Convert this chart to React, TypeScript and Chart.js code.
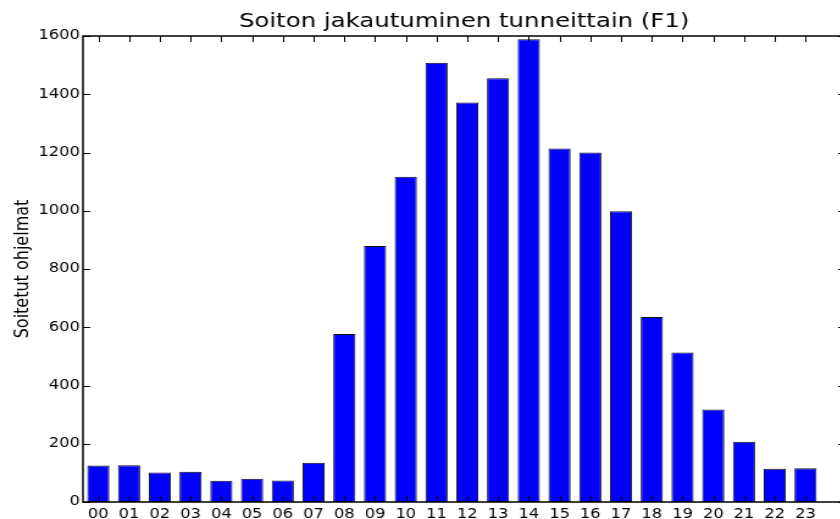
import React, { useEffect, useRef } from "react";
import { Chart, registerables } from "chart.js";

Chart.register(...registerables);

const hours = ["00","01","02","03","04","05","06","07","08","09","10","11","12","13","14","15","16","17","18","19","20","21","22","23"];
const plays = [125,126,101,104,73,80,74,135,577,879,1117,1508,1372,1455,1589,1214,1200,998,635,513,318,207,114,116];
const yTicks = [0,200,400,600,800,1000,1200,1400,1600];
const titleText = "Soiton jakautuminen tunneittain (F1)";
const yTitle = "Soitetut ohjelmat";

const FONT = "'DejaVu Sans', sans-serif";

const framePlugin = {
  id: "mplFrame",
  afterDatasetsDraw(chart: any) {
    const { ctx, chartArea: a, scales } = chart;
    const xs = scales.x, ys = scales.y;
    const L = 6;
    ctx.save();
    ctx.strokeStyle = "#000";
    ctx.lineWidth = 1;
    ctx.beginPath();
    xs.ticks.forEach((t: any) => {
      const px = Math.round(xs.getPixelForValue(t.value)) + 0.5;
      ctx.moveTo(px, a.bottom); ctx.lineTo(px, a.bottom - L);
      ctx.moveTo(px, a.top); ctx.lineTo(px, a.top + L);
    });
    ys.ticks.forEach((t: any) => {
      const py = Math.round(ys.getPixelForValue(t.value)) + 0.5;
      ctx.moveTo(a.left, py); ctx.lineTo(a.left + L, py);
      ctx.moveTo(a.right, py); ctx.lineTo(a.right - L, py);
    });
    ctx.stroke();
    ctx.lineWidth = 1.5;
    ctx.strokeRect(a.left, a.top, a.right - a.left, a.bottom - a.top);
    ctx.restore();
  },
};

export default function App() {
  const ref = useRef<HTMLCanvasElement | null>(null);
  useEffect(() => {
    if (!ref.current) return;
    const chart = new Chart(ref.current, {
      type: "bar",
      data: {
        datasets: [
          {
            data: plays.map((v, i) => ({ x: i, y: v })),
            backgroundColor: "#0000ff",
            borderColor: "#111",
            borderWidth: 1,
            borderSkipped: false,
            categoryPercentage: 1,
            barPercentage: 0.72,
          },
        ],
      },
      options: {
        animation: false,
        responsive: false,
        devicePixelRatio: 1,
        layout: { padding: { top: 0, right: 7, left: 0, bottom: 0 } },
        plugins: {
          legend: { display: false },
          tooltip: { enabled: false },
          title: {
            display: true,
            text: titleText,
            fullSize: false,
            color: "#000",
            font: { family: FONT, size: 20, weight: "normal" },
            padding: { top: 10, bottom: 2 },
          },
        },
        scales: {
          x: {
            type: "linear",
            offset: false,
            min: -0.5,
            max: 24.3,
            grid: { display: false, drawTicks: false },
            border: { display: false },
            afterBuildTicks: (s: any) => {
              s.ticks = hours.map((_, i) => ({ value: i }));
            },
            afterFit: (s: any) => {
              s.height = 17;
            },
            ticks: {
              autoSkip: false,
              maxRotation: 0,
              padding: 5,
              color: "#000",
              font: { family: FONT, size: 13.33 },
              callback: (v: any) => hours[v] ?? "",
            },
          },
          y: {
            type: "linear",
            min: 0,
            max: 1600,
            grid: { display: false, drawTicks: false },
            border: { display: false },
            afterBuildTicks: (s: any) => {
              s.ticks = yTicks.map((v) => ({ value: v }));
            },
            afterFit: (s: any) => {
              s.width = 68;
            },
            ticks: {
              padding: 2.5,
              color: "#000",
              font: { family: FONT, size: 13.33 },
              callback: (v: any) => String(v),
            },
            title: {
              display: true,
              text: yTitle,
              color: "#000",
              font: { family: FONT, size: 16 },
              padding: { top: 9, bottom: 0 },
            },
          },
        },
      },
      plugins: [framePlugin],
    } as any);
    return () => chart.destroy();
  }, []);
  return (
    <div
      style={{
        position: "absolute",
        left: 0,
        top: 0,
        width: 840,
        height: 519,
        overflow: "hidden",
        background: "#fff",
      }}
    >
      <canvas
        ref={ref}
        width={700}
        height={519}
        style={{ display: "block", transform: "scaleX(1.22)", transformOrigin: "0 0" }}
      />
    </div>
  );
}
